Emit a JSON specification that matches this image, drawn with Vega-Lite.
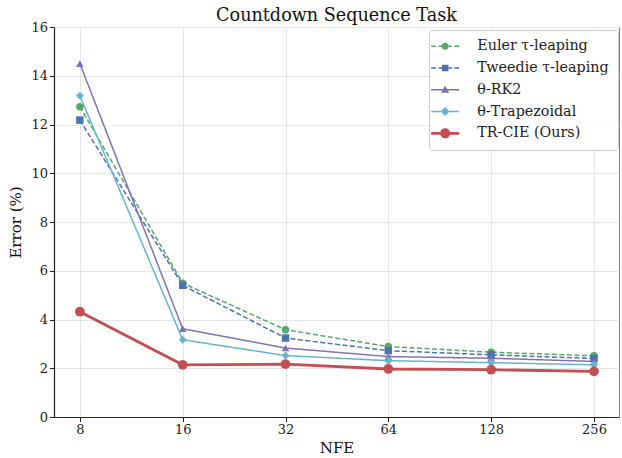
{
  "$schema": "https://vega.github.io/schema/vega-lite/v6.json",
  "autosize": {"type": "none"},
  "padding": {"left": 54, "top": 27, "right": 3, "bottom": 41},
  "width": 565,
  "height": 390,
  "background": "white",
  "title": {"text": "Countdown Sequence Task", "font": "DejaVu Serif", "fontSize": 17.6, "fontWeight": "normal", "color": "#111", "offset": -4},
  "config": {
    "view": {"stroke": "#808080", "strokeWidth": 1},
    "axis": {"labelFont": "DejaVu Serif", "titleFont": "DejaVu Serif", "labelFontSize": 13, "titleFontSize": 15, "titleFontWeight": "normal", "labelColor": "#222", "titleColor": "#111", "domainColor": "#222", "domainWidth": 1.2, "tickColor": "#222", "tickSize": 4.5, "gridColor": "#e6e6e6", "gridWidth": 1}
  },
  "data": {"values": [
    {"nfe": 8, "series": "Euler τ-leaping", "error": 12.73},
    {"nfe": 16, "series": "Euler τ-leaping", "error": 5.49},
    {"nfe": 32, "series": "Euler τ-leaping", "error": 3.58},
    {"nfe": 64, "series": "Euler τ-leaping", "error": 2.89},
    {"nfe": 128, "series": "Euler τ-leaping", "error": 2.66},
    {"nfe": 256, "series": "Euler τ-leaping", "error": 2.51},
    {"nfe": 8, "series": "Tweedie τ-leaping", "error": 12.18},
    {"nfe": 16, "series": "Tweedie τ-leaping", "error": 5.4},
    {"nfe": 32, "series": "Tweedie τ-leaping", "error": 3.24},
    {"nfe": 64, "series": "Tweedie τ-leaping", "error": 2.72},
    {"nfe": 128, "series": "Tweedie τ-leaping", "error": 2.55},
    {"nfe": 256, "series": "Tweedie τ-leaping", "error": 2.4},
    {"nfe": 8, "series": "θ-RK2", "error": 14.5},
    {"nfe": 16, "series": "θ-RK2", "error": 3.62},
    {"nfe": 32, "series": "θ-RK2", "error": 2.83},
    {"nfe": 64, "series": "θ-RK2", "error": 2.48},
    {"nfe": 128, "series": "θ-RK2", "error": 2.41},
    {"nfe": 256, "series": "θ-RK2", "error": 2.28},
    {"nfe": 8, "series": "θ-Trapezoidal", "error": 13.18},
    {"nfe": 16, "series": "θ-Trapezoidal", "error": 3.17},
    {"nfe": 32, "series": "θ-Trapezoidal", "error": 2.52},
    {"nfe": 64, "series": "θ-Trapezoidal", "error": 2.31},
    {"nfe": 128, "series": "θ-Trapezoidal", "error": 2.23},
    {"nfe": 256, "series": "θ-Trapezoidal", "error": 2.14},
    {"nfe": 8, "series": "TR-CIE (Ours)", "error": 4.32},
    {"nfe": 16, "series": "TR-CIE (Ours)", "error": 2.14},
    {"nfe": 32, "series": "TR-CIE (Ours)", "error": 2.17},
    {"nfe": 64, "series": "TR-CIE (Ours)", "error": 1.97},
    {"nfe": 128, "series": "TR-CIE (Ours)", "error": 1.94},
    {"nfe": 256, "series": "TR-CIE (Ours)", "error": 1.87}
  ]},
  "encoding": {
    "x": {"field": "nfe", "type": "quantitative", "title": "NFE",
      "scale": {"type": "log", "base": 2, "domain": [6.72, 303], "nice": false},
      "axis": {"values": [8, 16, 32, 64, 128, 256], "format": "d", "grid": true, "titlePadding": 4}},
    "y": {"field": "error", "type": "quantitative", "title": "Error (%)",
      "scale": {"domain": [0, 16], "nice": false},
      "axis": {"values": [0, 2, 4, 6, 8, 10, 12, 14, 16], "grid": true, "titlePadding": 7}},
    "color": {"field": "series", "type": "nominal", "title": null,
      "scale": {"domain": ["Euler τ-leaping", "Tweedie τ-leaping", "θ-RK2", "θ-Trapezoidal", "TR-CIE (Ours)"],
        "range": ["#55a868", "#4c72b0", "#8172b3", "#64b5cd", "#c44e52"]},
      "legend": {
        "orient": "none", "legendX": 375, "legendY": 3,
        "symbolSize": 196, "symbolOpacity": 1, "symbolStrokeWidth": 0,
        "labelFont": "DejaVu Serif", "labelFontSize": 14.3, "labelColor": "#222",
        "labelOffset": 25, "rowPadding": 6.8, "padding": 9,
        "fillColor": "rgba(255,255,255,0.85)", "strokeColor": "#cccccc", "cornerRadius": 3
      }}
  },
  "layer": [
    {
      "transform": [{"filter": "datum.series !== 'TR-CIE (Ours)'"}],
      "mark": {"type": "line", "strokeWidth": 1.5},
      "encoding": {
        "strokeDash": {"field": "series", "type": "nominal", "legend": null,
          "scale": {"domain": ["Euler τ-leaping", "Tweedie τ-leaping", "θ-RK2", "θ-Trapezoidal", "TR-CIE (Ours)"],
            "range": [[5, 2.5], [5, 2.5], [1, 0], [1, 0], [1, 0]]}}
      }
    },
    {
      "transform": [{"filter": "datum.series === 'Euler τ-leaping'"}],
      "mark": {"type": "point", "filled": true, "opacity": 1, "shape": "circle", "size": 55},
      "encoding": {}
    },
    {
      "transform": [{"filter": "datum.series === 'Tweedie τ-leaping'"}],
      "mark": {"type": "point", "filled": true, "opacity": 1, "shape": "square", "size": 55},
      "encoding": {}
    },
    {
      "transform": [{"filter": "datum.series === 'θ-RK2'"}],
      "mark": {"type": "point", "filled": true, "opacity": 1, "shape": "triangle-up", "size": 60},
      "encoding": {}
    },
    {
      "transform": [{"filter": "datum.series === 'θ-Trapezoidal'"}],
      "mark": {"type": "point", "filled": true, "opacity": 1, "shape": "diamond", "size": 65},
      "encoding": {}
    },
    {
      "transform": [{"filter": "datum.series === 'TR-CIE (Ours)'"}],
      "mark": {"type": "line", "strokeWidth": 2.8},
      "encoding": {}
    },
    {
      "transform": [{"filter": "datum.series === 'TR-CIE (Ours)'"}],
      "mark": {"type": "point", "filled": true, "opacity": 1, "shape": "circle", "size": 95},
      "encoding": {}
    },
    {
      "transform": [{"filter": "datum.nfe < 0"}],
      "mark": {"type": "point", "filled": true, "opacity": 1, "size": 196},
      "encoding": {
        "shape": {"field": "series", "type": "nominal", "legend": null,
          "scale": {"domain": ["Euler τ-leaping", "Tweedie τ-leaping", "θ-RK2", "θ-Trapezoidal", "TR-CIE (Ours)"],
            "range": [
              "M-2,-0.107H-1.3V0.107H-2ZM-0.95,-0.107H-0.25V0.107H-0.95ZM0.25,-0.107H0.95V0.107H0.25ZM1.3,-0.107H2V0.107H1.3ZM0.5,0A0.5,0.5,0,1,1,-0.5,0A0.5,0.5,0,1,1,0.5,0Z",
              "M-2,-0.107H-1.3V0.107H-2ZM-0.95,-0.107H-0.25V0.107H-0.95ZM0.25,-0.107H0.95V0.107H0.25ZM1.3,-0.107H2V0.107H1.3ZM-0.47,-0.47H0.47V0.47H-0.47Z",
              "M-2,-0.107H2V0.107H-2ZM0,-0.6L0.58,0.42H-0.58Z",
              "M-2,-0.107H2V0.107H-2ZM0,-0.64L0.64,0L0,0.64L-0.64,0Z",
              "M-2,-0.2H2V0.2H-2ZM0.72,0A0.72,0.72,0,1,1,-0.72,0A0.72,0.72,0,1,1,0.72,0Z"
            ]}}
      }
    }
  ]
}
